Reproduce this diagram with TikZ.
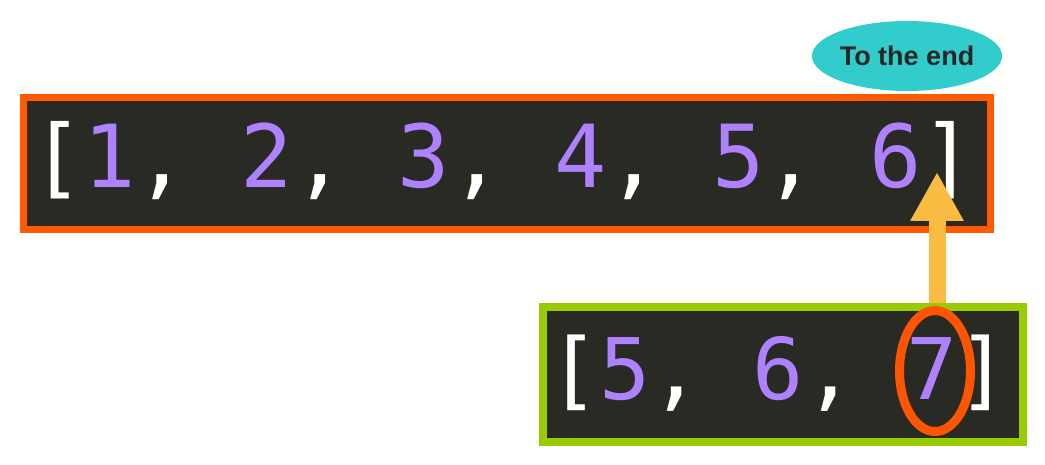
\documentclass[tikz,border=0pt]{standalone}
\usepackage{fontspec}
\usepackage{tikz}
\usetikzlibrary{arrows.meta}
\usetikzlibrary{shapes.geometric}
\usetikzlibrary{positioning}
\newfontfamily\codefont{DejaVu Sans Mono}
\newfontfamily\tagfont{Liberation Sans}
\definecolor{codebg}{HTML}{2A2A25}
\definecolor{numpurple}{HTML}{AE81FF}
\definecolor{lstorange}{HTML}{FF5A00}
\definecolor{subgreen}{HTML}{99CC00}
\definecolor{tagcyan}{HTML}{33CCCC}
\definecolor{arrowgold}{HTML}{F9BB42}
\definecolor{ringred}{HTML}{FF5500}
\newcommand{\vnum}[1]{\textcolor{numpurple}{#1}}
\begin{document}
\begin{tikzpicture}[x=1pt, y=-1pt]
\tikzstyle{box}=[rectangle, fill=codebg, inner sep=0pt];
\tikzstyle{code}=[anchor=base west, inner sep=0pt, text=white];
 \tikzstyle{ring}=[ellipse, draw=ringred, line width=9pt, inner sep=0pt,
                        minimum width=71pt, minimum height=121pt];
 \tikzstyle{tag}=[ellipse, fill=tagcyan, inner sep=0pt, text=black!85,
                        minimum width=180pt, minimum height=70pt,
                        font=\tagfont\bfseries\fontsize{27}{30}\selectfont];
\useasboundingbox (0,0) rectangle (1045,465);
\node[box, draw=lstorange, line width=7pt, minimum width=967pt, minimum height=132pt] (lst) at (507,163.5) {};
\node[code, font=\codefont\fontsize{87}{90}\selectfont] (lsttxt) at (31,188)
  {[\vnum{1}, \vnum{2}, \vnum{3}, \vnum{4}, \vnum{5}, \vnum{6}]};
\coordinate (tip) at (937,172);
\node[box, draw=subgreen, line width=8pt, minimum width=480pt, minimum height=135pt] (sub) at (783,374.5) {};
\draw[arrowgold, line width=17pt, -{Triangle[width=50pt, length=49pt]}] (937,303) -- (tip);
\node[code, font=\codefont\fontsize{85}{88}\selectfont] (subtxt) at (548,399)
  {[\vnum{5}, \vnum{6}, \vnum{7}]};
\node[ring] (ring) at (935,371) {};
\node[tag] (tag) at (907,56) {To the end};
\end{tikzpicture}
\end{document}
